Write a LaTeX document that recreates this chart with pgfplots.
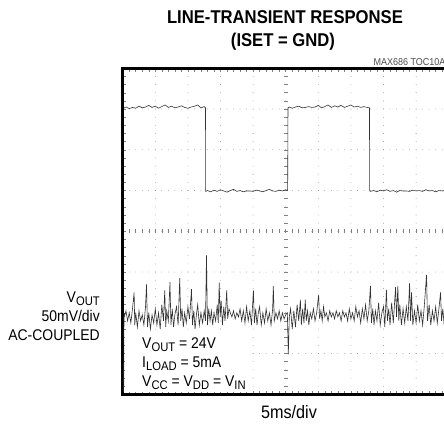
\documentclass[border=0pt]{standalone}
\usepackage{pgfplots}
\pgfplotsset{compat=1.18}
\usepackage{fontspec}
\setmainfont{Liberation Sans}[FakeStretch=0.9]
\newcommand\sub[1]{\raisebox{-0.2em}{\fontsize{12.5}{12.5}\selectfont #1}}
\begin{document}
\begin{tikzpicture}[x=1pt,y=1pt]
\useasboundingbox (0,0) rectangle (444,426);
\clip (0,0) rectangle (444,426);
\def\xo{122.7}\def\yo{31.7}\def\dx{32.6}\def\dy{40.75}
% grid
\foreach \i in {1,...,9}{
  \draw[black!50, line width=0.8pt, line cap=round, dash pattern=on 0pt off 8.15pt]
    ({\xo+\i*\dx},\yo) -- ({\xo+\i*\dx},{\yo+8*\dy});
}
\foreach \j in {1,...,7}{
  \draw[black!50, line width=0.8pt, line cap=round, dash pattern=on 0pt off 6.52pt]
    (\xo,{\yo+\j*\dy}) -- ({\xo+10*\dx},{\yo+\j*\dy});
}
\foreach \k in {1,...,39}{
  \draw[black!50, line width=0.5pt] ({\xo+5*\dx-2},{\yo+\k*8.15}) -- ({\xo+5*\dx+2},{\yo+\k*8.15});
}
\foreach \k in {1,...,49}{
  \draw[black!50, line width=0.5pt] ({\xo+\k*6.52},{\yo+4*\dy-2}) -- ({\xo+\k*6.52},{\yo+4*\dy+2});
}
\begin{axis}[
  at={(\xo pt,\yo pt)}, anchor=south west,
  scale only axis, width=326pt, height=326pt,
  xmin=0, xmax=10, ymin=-4, ymax=4,
  xtick={0,...,10}, ytick={-4,...,4},
  minor x tick num=4, minor y tick num=4,
  xticklabels={}, yticklabels={},
  major tick length=3.5pt, minor tick length=3.5pt,
  tick style={black!50, line width=0.5pt},
  axis line style={line width=3pt, black},
]
\addplot[black!80, line width=0.6pt] coordinates {
(0.03,3.02) (0.1,3.05) (0.2,3.01) (0.3,3.04) (0.4,3.02) (0.5,3.07) (0.6,3.03) (0.7,3.05) (0.8,3.09) (0.9,3.04) (1.0,3.07) (1.1,3.02) (1.2,3.06) (1.3,3.1) (1.4,3.04) (1.5,3.07) (1.6,3.03) (1.7,3.05) (1.8,3.08) (1.9,3.04) (2.0,3.02) (2.1,3.05) (2.2,3.07) (2.3,3.1) (2.4,3.03) (2.5,3.06) (2.54,3.03)
(2.545,0.98) (2.6,1.0) (2.7,0.97) (2.8,1.01) (2.9,0.98) (3.0,1.02) (3.1,0.99) (3.2,0.96) (3.3,1.0) (3.4,1.03) (3.5,0.98) (3.6,1.0) (3.7,0.97) (3.8,0.99) (3.9,0.99) (4.0,0.98) (4.1,1.01) (4.2,0.99) (4.3,0.97) (4.4,1.0) (4.5,1.03) (4.6,0.99) (4.7,0.98) (4.8,1.01) (4.9,0.99) (5.0,1.02) (5.06,1.0)
(5.07,3.03) (5.1,3.05) (5.2,3.02) (5.3,3.05) (5.4,3.07) (5.5,3.03) (5.6,3.04) (5.7,3.06) (5.8,3.04) (5.9,3.05) (6.0,3.09) (6.1,3.03) (6.2,3.06) (6.3,3.1) (6.4,3.04) (6.5,3.08) (6.6,3.05) (6.7,3.09) (6.8,3.04) (6.9,3.07) (7.0,3.1) (7.1,3.05) (7.2,3.07) (7.3,3.04) (7.4,3.06) (7.5,3.04) (7.57,3.03)
(7.575,0.99) (7.6,0.98) (7.7,1.0) (7.8,0.97) (7.9,1.01) (8.0,0.99) (8.1,1.02) (8.2,0.98) (8.3,1.0) (8.4,0.96) (8.5,1.0) (8.6,0.99) (8.7,0.99) (8.8,0.98) (8.9,1.01) (9.0,0.99) (9.1,1.0) (9.2,0.98) (9.3,1.02) (9.4,0.99) (9.5,1.0) (9.6,0.97) (9.7,1.0) (9.8,0.99) (9.9,1.01) (10.0,0.99)
};
\addplot[black!80, line width=0.6pt] coordinates {
(0.03,-3.95) (0.04,-2.0) (0.05,-2.1) (0.10,-1.95) (0.15,-2.2) (0.20,-2.0) (0.25,-2.25) (0.30,-1.9) (0.35,-1.5) (0.37,-2.3) (0.40,-2.0) (0.45,-2.35) (0.50,-1.95) (0.55,-2.2) (0.60,-2.05) (0.65,-2.3) (0.70,-1.85) (0.73,-1.3) (0.76,-2.35) (0.80,-2.0) (0.85,-2.4) (0.90,-2.05) (0.95,-2.25) (1.00,-1.9) (1.05,-2.3) (1.10,-2.0) (1.15,-2.4) (1.20,-1.8) (1.25,-2.2) (1.29,-1.45) (1.32,-2.35) (1.35,-1.95) (1.40,-2.2) (1.45,-1.25) (1.48,-2.3) (1.52,-1.9) (1.56,-2.35) (1.60,-2.05) (1.65,-1.85) (1.70,-2.3) (1.75,-1.15) (1.78,-2.2) (1.82,-1.9) (1.86,-2.35) (1.90,-2.0) (1.95,-2.25) (2.00,-1.85) (2.05,-2.15) (2.11,-1.42) (2.14,-2.3) (2.18,-1.95) (2.22,-2.4) (2.26,-2.05) (2.30,-1.8) (2.35,-2.3) (2.40,-2.0) (2.45,-2.25) (2.50,-1.95) (2.54,-2.2) (2.57,-0.59) (2.60,-2.3) (2.64,-1.9) (2.68,-2.2) (2.72,-1.95) (2.76,-2.3) (2.80,-2.0) (2.85,-2.2) (2.90,-1.8) (2.93,-2.25) (2.96,-1.26) (2.99,-2.1) (3.02,-1.7) (3.06,-2.3) (3.10,-1.85) (3.14,-2.2) (3.19,-1.45) (3.22,-2.15) (3.26,-1.9) (3.30,-2.0) (3.35,-2.1) (3.40,-1.95) (3.45,-2.15) (3.50,-2.0) (3.55,-2.1) (3.60,-1.9) (3.65,-2.2) (3.70,-1.95) (3.75,-2.25) (3.80,-1.85) (3.85,-2.2) (3.90,-1.95) (3.95,-2.3) (4.01,-1.45) (4.04,-2.25) (4.08,-1.9) (4.12,-2.3) (4.16,-2.0) (4.20,-1.85) (4.25,-2.3) (4.30,-2.0) (4.35,-2.25) (4.40,-1.9) (4.45,-2.2) (4.50,-2.0) (4.55,-2.3) (4.60,-1.9) (4.62,-1.34) (4.65,-2.2) (4.70,-2.0) (4.75,-2.15) (4.80,-1.95) (4.85,-2.2) (4.90,-2.0) (4.95,-2.15) (5.00,-2.05) (5.05,-2.0) (5.08,-3.02) (5.11,-2.1) (5.15,-1.9) (5.20,-2.4) (5.25,-1.95) (5.30,-2.35) (5.35,-1.8) (5.40,-2.2) (5.45,-1.68) (5.48,-2.3) (5.52,-1.9) (5.56,-2.25) (5.60,-1.68) (5.63,-2.2) (5.67,-1.95) (5.71,-2.3) (5.75,-2.0) (5.80,-2.15) (5.85,-1.9) (5.90,-2.2) (5.95,-2.0) (6.01,-1.56) (6.04,-2.15) (6.08,-1.95) (6.12,-2.2) (6.16,-1.85) (6.20,-2.1) (6.25,-2.0) (6.30,-2.2) (6.35,-1.95) (6.40,-2.1) (6.45,-2.0) (6.50,-2.15) (6.55,-1.95) (6.60,-2.1) (6.65,-2.0) (6.70,-2.2) (6.75,-1.95) (6.80,-2.1) (6.85,-2.0) (6.90,-2.2) (6.95,-1.9) (7.00,-2.15) (7.05,-2.0) (7.10,-2.2) (7.15,-1.85) (7.20,-2.1) (7.25,-1.95) (7.30,-2.25) (7.35,-1.9) (7.40,-2.15) (7.45,-1.8) (7.50,-2.2) (7.55,-1.95) (7.60,-1.34) (7.63,-2.25) (7.67,-1.9) (7.71,-2.3) (7.75,-1.95) (7.80,-2.2) (7.85,-1.75) (7.90,-2.3) (7.95,-2.0) (8.00,-1.85) (8.04,-2.35) (8.09,-1.44) (8.12,-2.2) (8.16,-1.9) (8.20,-2.3) (8.25,-1.75) (8.30,-2.25) (8.37,-1.37) (8.40,-2.1) (8.44,-1.34) (8.47,-2.2) (8.50,-1.8) (8.55,-2.3) (8.60,-1.9) (8.65,-2.25) (8.70,-1.85) (8.75,-2.2) (8.80,-1.27) (8.83,-2.2) (8.86,-1.5) (8.90,-2.3) (8.95,-1.95) (9.00,-2.25) (9.05,-1.8) (9.10,-2.2) (9.15,-1.95) (9.20,-2.3) (9.25,-1.85) (9.32,-1.07) (9.35,-2.2) (9.40,-1.8) (9.45,-2.3) (9.50,-1.95) (9.55,-2.2) (9.60,-1.85) (9.65,-2.25) (9.70,-1.9) (9.75,-1.5) (9.78,-2.2) (9.82,-1.9) (9.86,-2.3) (9.90,-1.95) (9.95,-2.2) (10.0,-2.0)
};
\end{axis}
% condition box
\fill[white] (125,34) rectangle (249,94);
\node[anchor=base west, inner sep=0pt, font=\fontsize{15.5}{15.5}\selectfont] at (142,78) {V\sub{OUT} = 24V};
\node[anchor=base west, inner sep=0pt, font=\fontsize{15.5}{15.5}\selectfont] at (142,58.5) {I\sub{LOAD} = 5mA};
\node[anchor=base west, inner sep=0pt, font=\fontsize{15.5}{15.5}\selectfont] at (142,39.5) {V\sub{CC} = V\sub{DD} = V\sub{IN}};
% left labels
\node[anchor=base east, inner sep=0pt, font=\fontsize{15.5}{15.5}\selectfont] at (100,124) {V\sub{OUT}};
\node[anchor=base east, inner sep=0pt, font=\fontsize{15.5}{15.5}\selectfont] at (100,105) {50mV/div};
\node[anchor=base east, inner sep=0pt, font=\fontsize{15.5}{15.5}\selectfont] at (100,86) {AC-COUPLED};
% x label
\node[anchor=base, inner sep=0pt, font=\fontsize{18}{18}\selectfont] at (289,8) {5ms/div};
% title
\node[anchor=base, inner sep=0pt, font=\bfseries\fontsize{18.5}{18.5}\selectfont] at (285,402) {LINE-TRANSIENT RESPONSE};
\node[anchor=base, inner sep=0pt, font=\bfseries\fontsize{18.5}{18.5}\selectfont] at (283,379.5) {(ISET = GND)};
\node[anchor=base west, inner sep=0pt, text=black!70, font=\fontsize{10}{10}\selectfont] at (373.3,360.5) {MAX686 TOC10A};
\end{tikzpicture}
\end{document}
